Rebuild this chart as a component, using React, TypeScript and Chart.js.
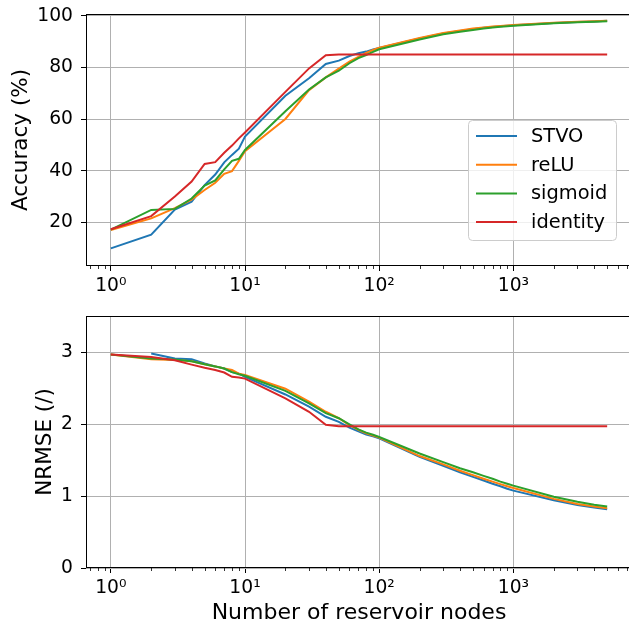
import { useEffect, useRef } from 'react';
import { Chart, registerables } from 'chart.js';

Chart.register(...registerables);

const FONT = "'DejaVu Sans', 'Liberation Sans', sans-serif";

const nodes = [1, 2, 3, 4, 5, 6, 7, 8, 9, 10, 20, 30, 40, 50, 60, 70, 80, 90, 100, 200, 300, 400, 500, 600, 700, 800, 900, 1000, 2000, 3000, 4000, 5000];

const seriesNames = ['STVO', 'reLU', 'sigmoid', 'identity'];
const seriesColors = ['#1f77b4', '#ff7f0e', '#2ca02c', '#d62728'];

const accSTVO = [9.9, 15.2, 24.9, 28.0, 34.4, 38.5, 43.2, 46.1, 48.5, 53.2, 69.0, 75.8, 81.3, 82.6, 84.4, 85.5, 86.1, 86.9, 87.5, 91.2, 93.1, 94.1, 94.8, 95.3, 95.6, 95.9, 96.1, 96.3, 97.2, 97.6, 97.8, 98.0];
const accReLU = [17.0, 21.5, 25.5, 28.8, 32.5, 35.3, 38.8, 39.8, 43.8, 47.5, 60.0, 71.2, 76.1, 79.5, 82.2, 84.1, 85.6, 86.7, 87.6, 91.4, 93.3, 94.3, 95.0, 95.4, 95.8, 96.0, 96.2, 96.4, 97.3, 97.7, 97.9, 98.0];
const accSigmoid = [17.2, 24.8, 25.2, 29.2, 34.2, 36.2, 40.5, 43.8, 44.6, 48.0, 63.0, 71.4, 76.1, 78.7, 81.6, 83.6, 84.8, 86.0, 87.0, 90.8, 92.8, 93.8, 94.5, 95.0, 95.4, 95.7, 95.9, 96.1, 97.1, 97.5, 97.7, 97.9];
const accIdentity = [17.3, 22.4, 30.0, 35.8, 42.6, 43.3, 46.9, 49.7, 52.5, 54.8, 70.5, 79.6, 84.7, 85.0, 85.0, 85.0, 85.0, 85.0, 85.0, 85.0, 85.0, 85.0, 85.0, 85.0, 85.0, 85.0, 85.0, 85.0, 85.0, 85.0, 85.0, 85.0];

const nrmseSTVO = [null, 2.98, 2.91, 2.90, 2.84, 2.80, 2.77, 2.72, 2.70, 2.655, 2.41, 2.24, 2.10, 2.03, 1.95, 1.90, 1.855, 1.83, 1.80, 1.545, 1.42, 1.33, 1.265, 1.215, 1.17, 1.135, 1.10, 1.075, 0.94, 0.875, 0.84, 0.815];
const nrmseReLU = [2.965, 2.90, 2.89, 2.87, 2.83, 2.80, 2.77, 2.75, 2.70, 2.68, 2.49, 2.31, 2.17, 2.08, 1.985, 1.92, 1.87, 1.84, 1.81, 1.555, 1.44, 1.35, 1.29, 1.24, 1.20, 1.165, 1.135, 1.11, 0.96, 0.89, 0.855, 0.83];
const nrmseSigmoid = [2.965, 2.91, 2.895, 2.87, 2.83, 2.80, 2.77, 2.72, 2.69, 2.67, 2.46, 2.285, 2.15, 2.08, 1.995, 1.925, 1.88, 1.85, 1.82, 1.59, 1.47, 1.385, 1.33, 1.28, 1.24, 1.20, 1.17, 1.144, 0.99, 0.92, 0.88, 0.855];
const nrmseIdentity = [2.965, 2.93, 2.885, 2.825, 2.78, 2.75, 2.715, 2.655, 2.645, 2.63, 2.355, 2.17, 1.99, 1.97, 1.97, 1.97, 1.97, 1.97, 1.97, 1.97, 1.97, 1.97, 1.97, 1.97, 1.97, 1.97, 1.97, 1.97, 1.97, 1.97, 1.97, 1.97];

const xTickValues = [1, 10, 100, 1000];
const xTickLabels = ['10⁰', '10¹', '10²', '10³'];
const accTicks = [20, 40, 60, 80, 100];
const nrmseTicks = [0, 1, 2, 3];

const X_MIN = Math.pow(10, -0.185);
const X_MAX = Math.pow(10, 3.884);

const CANVAS_W = 632;
const Y_AXIS_W = 86;

const framePlugin = {
  id: 'frame',
  afterDatasetsDraw(chart: any) {
    const { ctx, chartArea: a } = chart;
    ctx.save();
    ctx.strokeStyle = '#000';
    ctx.lineWidth = 1;
    ctx.strokeRect(a.left + 0.5, a.top + 0.5, a.right - a.left - 1, a.bottom - a.top - 1);
    const xs = chart.scales.x;
    ctx.lineWidth = 0.8;
    ctx.beginPath();
    for (let k = -1; k <= 3; k++) {
      for (let m = 2; m <= 9; m++) {
        const v = m * Math.pow(10, k);
        if (v < xs.min || v > xs.max) continue;
        const px = Math.round(xs.getPixelForValue(v)) + 0.5;
        ctx.moveTo(px, a.bottom);
        ctx.lineTo(px, a.bottom + 3);
      }
    }
    ctx.stroke();
    ctx.restore();
  },
};

const legendPlugin = {
  id: 'boxLegend',
  afterDraw(chart: any) {
    if (!chart.options.plugins.boxLegend?.show) return;
    const ctx = chart.ctx;
    const x0 = 468, y0 = 120, w = 148, h = 120;
    ctx.save();
    ctx.beginPath();
    ctx.roundRect(x0 + 0.5, y0 + 0.5, w, h, 4);
    ctx.fillStyle = 'rgba(255,255,255,0.8)';
    ctx.fill();
    ctx.strokeStyle = '#cccccc';
    ctx.lineWidth = 1;
    ctx.stroke();
    ctx.font = `19.4px ${FONT}`;
    ctx.textBaseline = 'middle';
    ctx.textAlign = 'left';
    chart.data.datasets.forEach((ds: any, i: number) => {
      const y = 136 + i * 28.7;
      ctx.strokeStyle = ds.borderColor;
      ctx.lineWidth = 2;
      ctx.beginPath();
      ctx.moveTo(476, y);
      ctx.lineTo(517, y);
      ctx.stroke();
      ctx.fillStyle = '#000';
      ctx.fillText(ds.label, 531, y + 1);
    });
    ctx.restore();
  },
};

function buildConfig(kind: 'acc' | 'nrmse') {
  const isAcc = kind === 'acc';
  const series = isAcc
    ? [accSTVO, accReLU, accSigmoid, accIdentity]
    : [nrmseSTVO, nrmseReLU, nrmseSigmoid, nrmseIdentity];
  const yTicks = isAcc ? accTicks : nrmseTicks;
  const datasets = series.map((arr, i) => ({
    label: seriesNames[i],
    data: nodes.map((x, j) => ({ x, y: arr[j] })),
    borderColor: seriesColors[i],
    backgroundColor: seriesColors[i],
    borderWidth: 2,
    pointRadius: 0,
    tension: 0,
    fill: false,
    order: 4 - i,
    spanGaps: false,
  }));
  const xAxisH = isAcc ? 34 : 58;
  return {
    type: 'line',
    data: { datasets },
    plugins: [framePlugin, legendPlugin],
    options: {
      animation: false,
      responsive: false,
      events: [],
      layout: { padding: { top: isAcc ? 14 : 16, left: 0, right: 0, bottom: 0 } },
      plugins: {
        legend: { display: false },
        tooltip: { enabled: false },
        boxLegend: { show: isAcc },
      },
      scales: {
        x: {
          type: 'logarithmic',
          min: X_MIN,
          max: X_MAX,
          afterBuildTicks: (s: any) => {
            s.ticks = xTickValues.map((v) => ({ value: v }));
          },
          afterFit: (s: any) => {
            s.height = xAxisH;
            s.paddingLeft = 0; s.paddingRight = 0; s.paddingTop = 0; s.paddingBottom = 0;
          },
          ticks: {
            autoSkip: false,
            maxRotation: 0,
            minRotation: 0,
            padding: 4,
            color: '#000',
            font: { family: FONT, size: 18.7 },
            callback: (v: number) => {
              const i = xTickValues.findIndex((t) => Math.abs(t - v) < 1e-9 * t);
              return i >= 0 ? xTickLabels[i] : '';
            },
          },
          grid: {
            display: true,
            color: '#b0b0b0',
            lineWidth: 1,
            drawTicks: true,
            tickLength: 5,
            tickColor: '#000',
            tickWidth: 1,
          },
          border: { display: false },
          title: isAcc
            ? { display: false }
            : {
                display: true,
                text: 'Number of reservoir nodes',
                color: '#000',
                font: { family: FONT, size: 22 },
                padding: { top: 0, bottom: 0 },
              },
        },
        y: {
          type: 'linear',
          min: isAcc ? 3.08 : 0,
          max: isAcc ? 100.66 : 3.5,
          afterBuildTicks: (s: any) => {
            s.ticks = yTicks.map((v) => ({ value: v }));
          },
          afterFit: (s: any) => {
            s.width = Y_AXIS_W;
            s.paddingLeft = 0; s.paddingRight = 0; s.paddingTop = 0; s.paddingBottom = 0;
          },
          ticks: {
            autoSkip: false,
            padding: 8,
            color: '#000',
            font: { family: FONT, size: 18.7 },
            callback: (v: number) => String(v),
          },
          grid: {
            display: true,
            color: '#b0b0b0',
            lineWidth: 1,
            drawTicks: true,
            tickLength: 5,
            tickColor: '#000',
            tickWidth: 1,
          },
          border: { display: false },
          title: {
            display: true,
            text: isAcc ? 'Accuracy (%)' : 'NRMSE (/)',
            color: '#000',
            font: { family: FONT, size: 21.5 },
            padding: { top: isAcc ? 9 : 33, bottom: 0 },
          },
        },
      },
    },
  };
}

function Panel({ kind, top, height }: { kind: 'acc' | 'nrmse'; top: number; height: number }) {
  const ref = useRef<HTMLCanvasElement | null>(null);
  useEffect(() => {
    if (!ref.current) return;
    const chart = new Chart(ref.current, buildConfig(kind) as any);
    return () => chart.destroy();
  }, [kind]);
  return (
    <canvas
      ref={ref}
      width={CANVAS_W}
      height={height}
      style={{ position: 'absolute', left: 0, top, width: CANVAS_W, height, display: 'block' }}
    />
  );
}

export default function App() {
  return (
    <div
      style={{
        position: 'absolute',
        left: 0,
        top: 0,
        width: 629,
        height: 626,
        overflow: 'hidden',
        background: '#fff',
      }}
    >
      <Panel kind="acc" top={0} height={300} />
      <Panel kind="nrmse" top={300} height={326} />
    </div>
  );
}
